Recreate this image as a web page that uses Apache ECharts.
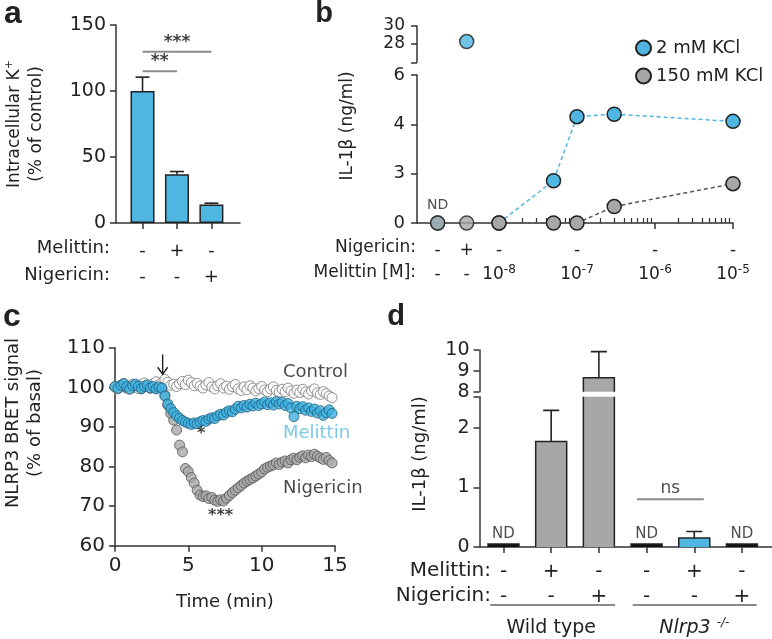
<!DOCTYPE html>
<html><head><meta charset="utf-8">
<script src="https://cdn.jsdelivr.net/npm/echarts@6/dist/echarts.min.js"></script>
<style>html,body{margin:0;padding:0;background:#fff}#c{width:772px;height:639px}</style>
</head><body><div id="c"></div>
<script>
// ================= DATA =================
// Panel a
const aMelittin = ['-', '+', '-'];
const aNigericin = ['-', '-', '+'];
const aValues = [100, 37, 14];
const aErrors = [10.5, 2, 1];
const aYTicks = [0, 50, 100, 150];
const aSig = [[0, 2, 129.8, '***'], [0, 1, 115, '**']];

// Panel b
const bMelittinConc = [1e-8, 5e-8, 1e-7, 3e-7, 1e-5];
const b2mM = [0, 2.57, 4.31, 4.41, 4.12];
const b150mM = [0, 0, 0, 1.0, 2.39];
const bOtherConditions = ['Untreated', 'Nigericin'];
const bOther2mM = [0, 28.2];
const bOther150mM = [0, 0];
const bLowTicks = [0, 3, 4, 6];
const bHighTicks = [28, 30];
const bNigRow = ['-', '+', '-', '-', '-', '-'];
const bMelRow = ['-', '-', '10{s|-8}', '10{s|-7}', '10{s|-6}', '10{s|-5}'];
const bDecades = [-8, -7, -6, -5];

// Panel c
const cTime = [0,0.2,0.4,0.6,0.8,1,1.2,1.4,1.6,1.8,2,2.2,2.4,2.6,2.8,3,3.2,3.4,3.6,3.8,4,4.2,4.4,4.6,4.8,5,5.2,5.4,5.6,5.8,6,6.2,6.4,6.6,6.8,7,7.2,7.4,7.6,7.8,8,8.2,8.4,8.6,8.8,9,9.2,9.4,9.6,9.8,10,10.2,10.4,10.6,10.8,11,11.2,11.4,11.6,11.8,12,12.2,12.4,12.6,12.8,13,13.2,13.4,13.6,13.8,14,14.2,14.4,14.6,14.8];
const cControl = [100,99.6,100.5,101,100.2,99.5,100.8,100.3,99.7,100.6,101.1,100.2,99.8,100.9,101.4,100.6,101.2,
  102,101.3,100.5,100.8,100.2,100.9,101.5,100.7,101.8,101.2,100.4,101,100.3,99.8,100.6,101.2,100.1,99.6,100.4,100.9,99.8,100.3,99.5,100.2,100.7,99.6,99.2,100.1,99.4,100.4,99.8,99.1,99.7,100.2,99.3,98.9,99.6,100.1,99.2,98.8,99.5,98.9,99.8,99.1,98.5,99.3,98.7,99.5,98.8,98.3,99.1,99.6,98.6,98.2,98.9,98.4,97.8,97.4];
const cMelittin = [100.2,99.8,100.5,100.9,100.1,99.6,100.4,100.8,100.2,99.7,100.3,100.6,99.9,100.2,99.6,100.1,99.8,
  97.8,95.8,94.6,93.6,92.8,92.2,91.6,91.2,90.9,90.6,91.0,90.8,91.3,91.6,91.4,92.0,92.3,92.1,92.8,93.2,93.0,93.7,94.1,93.8,94.5,95.2,94.8,95.4,95.0,95.7,95.3,96.0,95.4,95.8,96.3,95.6,96.1,95.5,96.4,95.8,96.2,95.4,95.9,94.8,92.6,95.2,94.6,95.1,94.2,94.8,93.9,94.5,93.5,94.1,92.9,93.6,94.3,93.4];
const cNigericin = [100.1,99.7,100.4,100.2,99.8,100.3,99.9,100.5,100.0,99.6,100.2,100.4,99.8,100.1,99.7,100.3,99.9,
  98.0,95.5,93.4,91.7,89.2,85.4,83.7,79.5,78.7,77.2,75.8,74.0,72.8,72.4,72.6,71.9,72.2,71.5,71.2,71.6,71.3,72.0,72.7,73.4,74.0,74.6,75.2,75.8,76.3,76.7,77.1,77.6,78.1,78.6,79.4,79.8,80.1,80.4,80.9,80.5,81.1,81.4,80.9,81.7,82.1,81.7,82.3,82.7,82.2,82.9,82.5,83.1,82.6,82.2,81.8,82.3,81.5,80.9];
const cXTicks = [0, 5, 10, 15];
const cYTicks = [60, 70, 80, 90, 100, 110];
const cArrow = [3.25, 108.3, 103.3];

// Panel d
const dMelittin = ['-', '+', '-', '-', '+', '-'];
const dNigericin = ['-', '-', '+', '-', '-', '+'];
const dValues = [0, 1.77, 8.67, 0, 0.15, 0];
const dErrors = [0, 0.52, 1.25, 0, 0.11, 0];
const dND = [true, false, false, true, false, true];
const dGroups = ['Wild type', '{i|Nlrp3} {si|-/-}'];
const dLowTicks = [0, 1, 2];
const dHighTicks = [8, 9, 10];
const dSig = [[2.8, 4.2, 0.8, 'ns']];

// ================= STYLE / LAYOUT =================
const FONT = 'DejaVu Sans';
const BLUE = '#4fb6e2', GRAY = '#a7a7a7', INK = '#222', AX = '#333';
const G = {
  a: {left: 116, top: 25, width: 124, height: 198},
  b1: {left: 417, top: 26, width: 316, height: 36.3},
  b2: {left: 417, top: 75, width: 316, height: 148},
  c: {left: 115, top: 347.7, width: 220, height: 198},
  d1: {left: 479.5, top: 350, width: 292.5, height: 41.7},
  d2: {left: 479.5, top: 396.7, width: 292.5, height: 150.8}
};
const aXRange = [-0.77, 2.83];
const bXRange = [-9.051, -5];
const bOtherPos = [-8.786, -8.414];
const dXRange = [-0.503, 5.63];
const bHighMin = 25.8, dHighMin = 8, dLowMax = 2.52;

// piecewise map for panel b lower axis (equal spacing between listed ticks)
function segB(v) {
  for (let i = 0; i < bLowTicks.length - 1; i++) {
    if (v <= bLowTicks[i + 1]) return i + (v - bLowTicks[i]) / (bLowTicks[i + 1] - bLowTicks[i]);
  }
  return bLowTicks.length - 1;
}

const lbl = (size, extra) => Object.assign({fontFamily: FONT, fontSize: size, color: INK}, extra || {});

function axisBase(gridIndex, min, max, opt) {
  return Object.assign({
    type: 'value', gridIndex, min, max, splitLine: {show: false},
    axisLine: {show: true, onZero: false, lineStyle: {color: AX, width: 1.5}},
    axisTick: {show: true, length: 5, lineStyle: {color: AX, width: 1.5}},
    axisLabel: lbl(18, {margin: 8})
  }, opt || {});
}
function rowAxis(gridIndex, min, max, values, texts, offset, size, rich) {
  return {
    type: 'value', gridIndex, min, max, position: 'bottom', offset,
    splitLine: {show: false}, axisLine: {show: false, onZero: false}, axisTick: {show: false},
    axisLabel: Object.assign(lbl(size, {margin: 0, lineHeight: 22}), {
      customValues: values, showMinLabel: true, showMaxLabel: true, interval: 0, hideOverlap: false,
      formatter: v => { const i = values.findIndex(x => Math.abs(x - v) < 1e-6); return i >= 0 ? texts[i] : ''; },
      rich: rich || {}
    })
  };
}

const supRich = {s: {fontFamily: FONT, fontSize: 12, lineHeight: 12, verticalAlign: 'top', color: INK}};

const aIdx = aValues.map((_, i) => i);
const dIdx = dValues.map((_, i) => i);
const bPos = bMelittinConc.map(c => Math.log10(c));
const bRowPos = bOtherPos.concat(bDecades);
const bMinor = [];
for (let n = -8; n < -5; n++) for (let k = 2; k <= 9; k++) bMinor.push(n + Math.log10(k));

const xAxis = [
  axisBase(0, aXRange[0], aXRange[1], {axisTick: {show: true, length: 6, customValues: aIdx, lineStyle: {color: AX, width: 1.5}}, axisLabel: {show: false}}),
  rowAxis(0, aXRange[0], aXRange[1], aIdx, aMelittin, 17, 18),
  rowAxis(0, aXRange[0], aXRange[1], aIdx, aNigericin, 43, 18),
  axisBase(1, bXRange[0], bXRange[1], {show: false}),
  axisBase(2, bXRange[0], bXRange[1], {axisTick: {show: true, length: 6, customValues: bDecades, lineStyle: {color: AX, width: 1.5}}, axisLabel: {show: false}}),
  axisBase(2, bXRange[0], bXRange[1], {position: 'bottom', axisLine: {show: false, onZero: false}, axisTick: {show: true, inside: true, length: 5, customValues: bMinor, lineStyle: {color: AX, width: 1.2}}, axisLabel: {show: false}}),
  rowAxis(2, bXRange[0], bXRange[1], bRowPos, bNigRow, 17, 17),
  rowAxis(2, bXRange[0], bXRange[1], bRowPos, bMelRow, 41, 17, supRich),
  axisBase(3, 0, 15, {axisTick: {show: true, length: 6, customValues: cXTicks, lineStyle: {color: AX, width: 1.5}}, axisLabel: lbl(20, {margin: 10, customValues: cXTicks, interval: 0})}),
  axisBase(4, dXRange[0], dXRange[1], {show: false}),
  axisBase(5, dXRange[0], dXRange[1], {axisTick: {show: true, length: 6, customValues: dIdx, lineStyle: {color: AX, width: 1.5}}, axisLabel: {show: false}}),
  rowAxis(5, dXRange[0], dXRange[1], dIdx, dMelittin, 14, 20),
  rowAxis(5, dXRange[0], dXRange[1], dIdx, dNigericin, 39, 20),
  rowAxis(5, dXRange[0], dXRange[1], [1, 4], dGroups, 70, 19, {
    i: {fontFamily: FONT, fontSize: 19, fontStyle: 'italic', color: INK, lineHeight: 22},
    si: {fontFamily: FONT, fontSize: 12, fontStyle: 'italic', color: INK, lineHeight: 12, verticalAlign: 'top'}
  })
];

const yAxis = [
  axisBase(0, 0, 150, {axisTick: {show: true, length: 6, customValues: aYTicks, lineStyle: {color: AX, width: 1.5}}, axisLabel: lbl(19, {margin: 10, customValues: aYTicks, interval: 0})}),
  axisBase(1, bHighMin, 30, {axisTick: {show: true, length: 6, customValues: bHighTicks.concat([bHighMin]), lineStyle: {color: AX, width: 1.5}},
    axisLabel: lbl(17, {margin: 12, customValues: bHighTicks, lineHeight: 14, interval: 0, hideOverlap: false, showMinLabel: true, showMaxLabel: true})}),
  axisBase(2, 0, bLowTicks.length - 1, {axisTick: {show: true, length: 6, customValues: bLowTicks.map((_, i) => i), lineStyle: {color: AX, width: 1.5}},
    axisLabel: lbl(18, {margin: 12, interval: 0, customValues: bLowTicks.map((_, i) => i), formatter: v => String(bLowTicks[Math.round(v)])})}),
  axisBase(3, 60, 110, {axisTick: {show: true, length: 6, customValues: cYTicks, lineStyle: {color: AX, width: 1.5}}, axisLabel: lbl(20, {margin: 10, customValues: cYTicks, interval: 0})}),
  axisBase(4, dHighMin, 10, {axisTick: {show: true, length: 6, customValues: dHighTicks, lineStyle: {color: AX, width: 1.5}}, axisLabel: lbl(19, {margin: 10, customValues: dHighTicks, lineHeight: 18, interval: 0, hideOverlap: false})}),
  axisBase(5, 0, dLowMax, {axisTick: {show: true, length: 6, customValues: dLowTicks.concat([dLowMax]), lineStyle: {color: AX, width: 1.5}}, axisLabel: lbl(19, {margin: 10, customValues: dLowTicks, interval: 0})})
];

function errSeries(xi, yi, xs, tops, errs, cap) {
  return {
    type: 'custom', xAxisIndex: xi, yAxisIndex: yi, clip: true, z: 5, silent: true,
    data: xs.map((x, i) => [x, tops[i], errs[i]]).filter(d => d[2] > 0),
    renderItem: (p, api) => {
      const p0 = api.coord([api.value(0), api.value(1)]);
      const p1 = api.coord([api.value(0), api.value(1) + api.value(2)]);
      const st = {stroke: INK, lineWidth: 1.6};
      return {type: 'group', children: [
        {type: 'line', shape: {x1: p0[0], y1: p0[1], x2: p1[0], y2: p1[1]}, style: st},
        {type: 'line', shape: {x1: p1[0] - cap, y1: p1[1], x2: p1[0] + cap, y2: p1[1]}, style: st}
      ]};
    }
  };
}
function textSeries(xi, yi, items, style) {
  return {
    type: 'scatter', xAxisIndex: xi, yAxisIndex: yi, symbolSize: 0, silent: true, clip: false, z: 8,
    data: items.map(d => ({value: [d[0], d[1]], label: Object.assign({show: true, formatter: d[2], position: d[3] || 'inside', distance: d[4] || 0}, lbl(style.fontSize || 16, style))}))
  };
}
function sigLine(xi, yi, s) {
  return {type: 'line', xAxisIndex: xi, yAxisIndex: yi, symbol: 'none', silent: true, z: 4,
    lineStyle: {color: '#8a8a8a', width: 2}, data: [[s[0], s[2]], [s[1], s[2]]]};
}
// broken-axis bar: clamps to its grid, no border on a clipped edge
const dColor = i => dND[i] ? '#111' : (dMelittin[i] === '+' && i > 2 ? BLUE : GRAY);
function brokenBars(xi, yi, width, minH) {
  return {
    type: 'custom', xAxisIndex: xi, yAxisIndex: yi, clip: false, z: 3, silent: true,
    data: dValues.map((v, i) => [i, v]),
    renderItem: (p, api) => {
      const cs = p.coordSys;
      const i = api.value(0), v = api.value(1);
      const base = api.coord([i, 0]), top = api.coord([i, v]);
      const gb = cs.y + cs.height;
      if (top[1] > gb + 0.5) return null;
      const x0 = base[0] - width / 2, x1 = base[0] + width / 2;
      const yB = Math.min(base[1], gb);
      let yT = top[1], clampT = false;
      if (yT < cs.y) { yT = cs.y; clampT = true; }
      if (!clampT && yB - yT < minH) yT = yB - minH;
      const st = {stroke: INK, lineWidth: 1.5, fill: null};
      const kids = [{type: 'rect', shape: {x: x0, y: yT, width: width, height: yB - yT}, style: {fill: dColor(i)}}];
      if (clampT) {
        kids.push({type: 'line', shape: {x1: x0, y1: yT, x2: x0, y2: yB}, style: st});
        kids.push({type: 'line', shape: {x1: x1, y1: yT, x2: x1, y2: yB}, style: st});
      } else {
        kids.push({type: 'polyline', shape: {points: [[x0, yB], [x0, yT], [x1, yT], [x1, yB]]}, style: st});
      }
      return {type: 'group', children: kids};
    }
  };
}

const bSym = (fill) => ({color: fill, borderColor: INK, borderWidth: 1.5});
const series = [];

// ---- a
series.push({type: 'bar', xAxisIndex: 0, yAxisIndex: 0, barWidth: 24, z: 3,
  itemStyle: {color: BLUE, borderColor: INK, borderWidth: 1.5}, data: aValues.map((v, i) => [i, v])});
series.push(errSeries(0, 0, aIdx, aValues, aErrors, 7));
aSig.forEach(s => series.push(sigLine(0, 0, s)));
series.push(textSeries(0, 0, aSig.map(s => [(s[0] + s[1]) / 2, s[2], s[3], 'top', 1]), {fontSize: 17, fontWeight: 'bold', color: '#111'}));

// ---- b lower
series.push({type: 'line', name: '2 mM KCl', xAxisIndex: 4, yAxisIndex: 2, symbol: 'circle', symbolSize: 14, z: 3,
  lineStyle: {color: BLUE, width: 1.5, type: [4, 3]}, itemStyle: bSym(BLUE),
  data: bPos.map((x, i) => [x, segB(b2mM[i])])});
series.push({type: 'scatter', name: '2 mM KCl', xAxisIndex: 4, yAxisIndex: 2, symbolSize: 14, z: 3, itemStyle: bSym(BLUE),
  data: bOtherPos.map((x, i) => [x, bOther2mM[i]]).filter(d => d[1] <= bLowTicks[bLowTicks.length - 1]).map(d => [d[0], segB(d[1])])});
series.push({type: 'line', name: '150 mM KCl', xAxisIndex: 4, yAxisIndex: 2, symbol: 'circle', symbolSize: 14, z: 4,
  lineStyle: {color: '#555', width: 1.5, type: [4, 3]}, itemStyle: bSym(GRAY),
  data: bPos.map((x, i) => [x, segB(b150mM[i])])});
series.push({type: 'scatter', name: '150 mM KCl', xAxisIndex: 4, yAxisIndex: 2, symbolSize: 14, z: 4, itemStyle: bSym(GRAY),
  data: bOtherPos.map((x, i) => ({value: [x, segB(bOther150mM[i])],
    label: i === 0 ? {show: true, formatter: 'ND', position: 'top', distance: 3, fontFamily: FONT, fontSize: 14, color: INK} : {show: false}}))});
series.push({type: 'scatter', name: '2 mM KCl', xAxisIndex: 3, yAxisIndex: 1, symbolSize: 14, z: 3, itemStyle: bSym(BLUE),
  data: bOtherPos.map((x, i) => [x, bOther2mM[i]]).filter(d => d[1] >= bHighMin)});

// ---- c
series.push({type: 'scatter', xAxisIndex: 8, yAxisIndex: 3, symbolSize: 10, z: 3,
  itemStyle: {color: '#a9a9a9', borderColor: '#555', borderWidth: 1}, data: cTime.map((t, i) => [t, cNigericin[i]])});
series.push({type: 'scatter', xAxisIndex: 8, yAxisIndex: 3, symbolSize: 10, z: 3,
  itemStyle: {color: '#fff', borderColor: '#777', borderWidth: 1}, data: cTime.map((t, i) => [t, cControl[i]])});
series.push({type: 'scatter', xAxisIndex: 8, yAxisIndex: 3, symbolSize: 10, z: 3,
  itemStyle: {color: '#3fb0e0', borderColor: '#22607e', borderWidth: 1}, data: cTime.map((t, i) => [t, cMelittin[i]])});
series.push({type: 'custom', xAxisIndex: 8, yAxisIndex: 3, silent: true, z: 6, data: [cArrow],
  renderItem: (p, api) => {
    const a = api.coord([api.value(0), api.value(1)]), b = api.coord([api.value(0), api.value(2)]);
    const st = {stroke: INK, lineWidth: 1.4, fill: null};
    return {type: 'group', children: [
      {type: 'line', shape: {x1: a[0], y1: a[1], x2: b[0], y2: b[1]}, style: st},
      {type: 'polyline', shape: {points: [[b[0] - 5, b[1] - 7], [b[0], b[1]], [b[0] + 5, b[1] - 7]]}, style: st}
    ]};
  }});
series.push(textSeries(8, 3, [[5.87, 88.3, '*'], [7.2, 67.5, '***']], {fontSize: 16, fontWeight: 'bold', color: '#111'}));
series.push(textSeries(8, 3, [[11.45, 103.9, 'Control', 'right'], [11.45, 74.6, 'Nigericin', 'right']], {fontSize: 18, color: '#1a1a1a'}));
series.push(textSeries(8, 3, [[11.45, 88.5, 'Melittin', 'right']], {fontSize: 18, color: '#57bde6'}));

// ---- d
series.push(brokenBars(10, 5, 31, 3));
series.push(brokenBars(9, 4, 31, 0));
series.push(errSeries(10, 5, dIdx, dValues, dErrors, 8));
series.push(errSeries(9, 4, dIdx, dValues, dErrors, 8));
dSig.forEach(s => series.push(sigLine(10, 5, s)));
series.push(textSeries(10, 5, dSig.map(s => [(s[0] + s[1]) / 2, s[2], s[3], 'top', 2]), {fontSize: 17}));
series.push(textSeries(10, 5, dIdx.filter(i => dND[i]).map(i => [i, 0, 'ND', 'top', 5]), {fontSize: 15}));

// ---- graphic texts
const T = (x, y, text, o) => ({type: 'text', x, y, silent: true,
  style: Object.assign({text, fontFamily: FONT, fontSize: 18, fill: INK, align: 'center', verticalAlign: 'middle'}, o || {})});
const graphic = [
  T(13, 14, 'a', {fontSize: 32, fontWeight: 'bold', fontFamily: 'Liberation Sans'}),
  T(324, 14, 'b', {fontSize: 29, fontWeight: 'bold', fontFamily: 'Liberation Sans'}),
  T(12, 317, 'c', {fontSize: 32, fontWeight: 'bold', fontFamily: 'Liberation Sans'}),
  T(396, 317, 'd', {fontSize: 29, fontWeight: 'bold', fontFamily: 'Liberation Sans'}),
  Object.assign(T(26, 124, '{n|Intracellular K}{s|+}\n{n|(% of control)}', {rich: {n: {fontFamily: FONT, fontSize: 17, lineHeight: 22, fill: INK}, s: {fontFamily: FONT, fontSize: 11, lineHeight: 11, verticalAlign: 'top', fill: INK}}}), {rotation: Math.PI / 2}),
  Object.assign(T(348, 126, 'IL-1β (ng/ml)', {fontSize: 17}), {rotation: Math.PI / 2}),
  Object.assign(T(24, 423, 'NLRP3 BRET signal\n(% of basal)', {fontSize: 18, lineHeight: 22}), {rotation: Math.PI / 2}),
  Object.assign(T(420, 454, 'IL-1β (ng/ml)', {fontSize: 18}), {rotation: Math.PI / 2}),
  T(225, 602, 'Time (min)', {fontSize: 18}),
  T(110, 248, 'Melittin:', {align: 'right', fontSize: 18}),
  T(110, 275, 'Nigericin:', {align: 'right', fontSize: 18}),
  T(416, 248, 'Nigericin:', {align: 'right', fontSize: 17}),
  T(416, 273, 'Melittin [M]:', {align: 'right', fontSize: 17}),
  T(491, 571, 'Melittin:', {align: 'right', fontSize: 20}),
  T(491, 596, 'Nigericin:', {align: 'right', fontSize: 20})
];

const chart = echarts.init(document.getElementById('c'), null, {renderer: 'canvas'});
chart.setOption({
  animation: false, backgroundColor: '#fff',
  grid: [G.a, G.b1, G.b2, G.c, G.d1, G.d2].map(g => Object.assign({containLabel: false}, g)),
  xAxis, yAxis, series, graphic,
  legend: {data: ['2 mM KCl', '150 mM KCl'], orient: 'vertical', left: 630, top: 34, icon: 'circle', itemWidth: 15, itemHeight: 15, itemGap: 10,
    textStyle: {fontFamily: FONT, fontSize: 18, color: INK}}
});
const dGroupSpans = [[-0.28, 2.34], [2.71, 5.31]];
const yLine = G.d2.top + G.d2.height + 57.5;
chart.setOption({graphic: graphic.concat(dGroupSpans.map(s => {
  const x1 = chart.convertToPixel({xAxisIndex: 10}, s[0]), x2 = chart.convertToPixel({xAxisIndex: 10}, s[1]);
  return {type: 'line', silent: true, shape: {x1, y1: yLine, x2, y2: yLine}, style: {stroke: '#8a8a8a', lineWidth: 2}};
}))});
</script></body></html>
